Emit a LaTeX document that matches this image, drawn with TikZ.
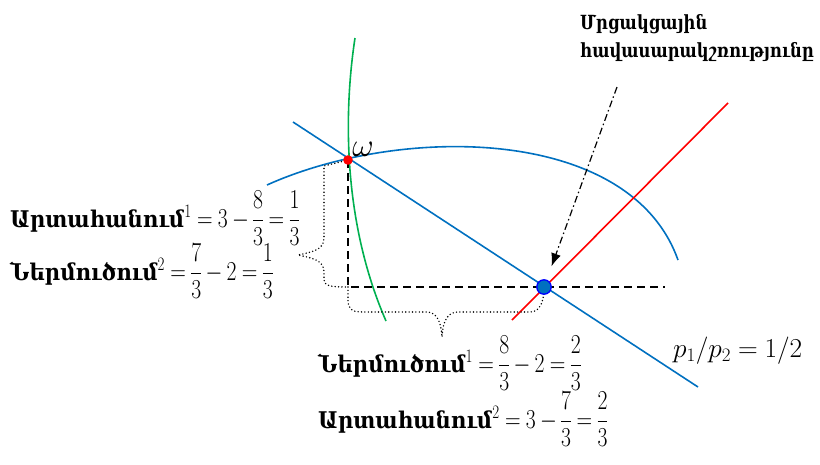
\documentclass[tikz,border=0pt]{standalone}
\usepackage{amsmath}
\usepackage{graphicx}
\usepackage{fontspec}
\usetikzlibrary{arrows.meta,positioning}
\newfontfamily\armfont[FakeStretch=0.92]{DejaVu Serif}
\newfontfamily\armtitlefont[FakeStretch=0.84]{DejaVu Serif}
\thickmuskip=4.5mu
\medmuskip=3.5mu
\nulldelimiterspace=0pt
\newcommand\valuemath[1]{\scalebox{0.87}[1.1]{$#1$}}
\definecolor{curveblue}{RGB}{0,112,192}
\definecolor{curvegreen}{RGB}{0,176,80}
\definecolor{curvered}{RGB}{255,0,0}
\definecolor{dotblue}{RGB}{0,0,255}
\tikzset{
  bluecurve/.style={
    draw=curveblue,
    line width=1.6pt
  },
  greencurve/.style={
    draw=curvegreen,
    line width=1.6pt
  },
  redcurve/.style={
    draw=curvered,
    line width=1.6pt
  },
  guideline/.style={
    draw=black,
    line width=1.6pt,
    dash pattern=on 8pt off 5pt
  },
  bracepath/.style={
    draw=black,
    line width=1.6pt,
    line cap=round,
    dash pattern=on 0pt off 3.4pt
  },
  pointerarrow/.style={
    draw=black,
    line width=1.2pt,
    dash pattern=on 7pt off 3pt on 1.5pt off 3pt,
    -{Latex[length=13pt,width=10pt]}
  },
  titletext/.style={
    anchor=base west,
    inner sep=0pt,
    font=\fontsize{19.5}{22}\selectfont\armtitlefont\bfseries
  },
  valuetext/.style={
    anchor=base west,
    inner sep=0pt,
    font=\fontsize{23}{27}\selectfont\armfont\bfseries
  }
}

\begin{document}
\begin{tikzpicture}[x=1pt,y=-1pt]
\useasboundingbox (0,0) rectangle (820,464);

\coordinate (omega) at (348,160);
\coordinate (eq) at (544,287);
\coordinate (corner) at (348,287);
\coordinate (arrowstart) at (617,87);

% curves and lines
\draw[greencurve] (355,38) .. controls (344,110) and (342,220) .. (386,321);
\draw[bluecurve] (267,185) .. controls (400,125) and (630,125) .. (678,260);
\draw[bluecurve] (293,122) -- (698,387);
\draw[redcurve] (512,320) -- (728,103);

% projections
\draw[guideline] (omega) -- (corner) -- (665,287);

% braces
\draw[bracepath] (omega) -- (324,166) -- (324,238)
  .. controls (324,250) and (312,252) .. (298,255)
  .. controls (312,258) and (324,260) .. (324,272)
  -- (324,279) .. controls (324,286) and (330,287) .. (corner);
\draw[bracepath] (corner) -- (348,300)
  .. controls (348,309) and (352,312) .. (362,312) -- (426,312)
  .. controls (436,312) and (441,320) .. (442,337)
  .. controls (443,320) and (448,312) .. (458,312) -- (530,312)
  .. controls (540,312) and (544,302) .. (eq);

% points
\fill[curvered] (omega) circle (4.8);
\filldraw[fill=curveblue, draw=dotblue, line width=1.3pt] (eq) circle (7.2);

% pointer
\draw[pointerarrow, shorten >=22pt] (arrowstart) -- (eq);

% labels
\node[anchor=base, inner sep=0pt, font=\fontsize{20}{24}\selectfont] (omegalabel) at (363,156) {\scalebox{1.6}{$\omega$}};
\node[titletext] (titletop) at (580,29) {Մրցակցային};
\node[titletext] (titlebottom) at (580,57) {հավասարակշռությունը};
\node[valuetext] (exportone) at (10,227) {Արտահանում\valuemath{{}^1 = 3 - \dfrac{8}{3} = \dfrac{1}{3}}};
\node[valuetext] (importtwo) at (10,280) {Ներմուծում\valuemath{{}^2 = \dfrac{7}{3} - 2 = \dfrac{1}{3}}};
\node[valuetext] (importone) at (318,372) {Ներմուծում\valuemath{{}^1 = \dfrac{8}{3} - 2 = \dfrac{2}{3}}};
\node[valuetext] (exporttwo) at (318,428) {Արտահանում\valuemath{{}^2 = 3 - \dfrac{7}{3} = \dfrac{2}{3}}};
\node[anchor=base west, inner sep=0pt, font=\fontsize{24}{28}\selectfont] (pricelabel) at (673,357) {\scalebox{1.1}{$p_1/p_2 = 1/2$}};
\end{tikzpicture}
\end{document}
